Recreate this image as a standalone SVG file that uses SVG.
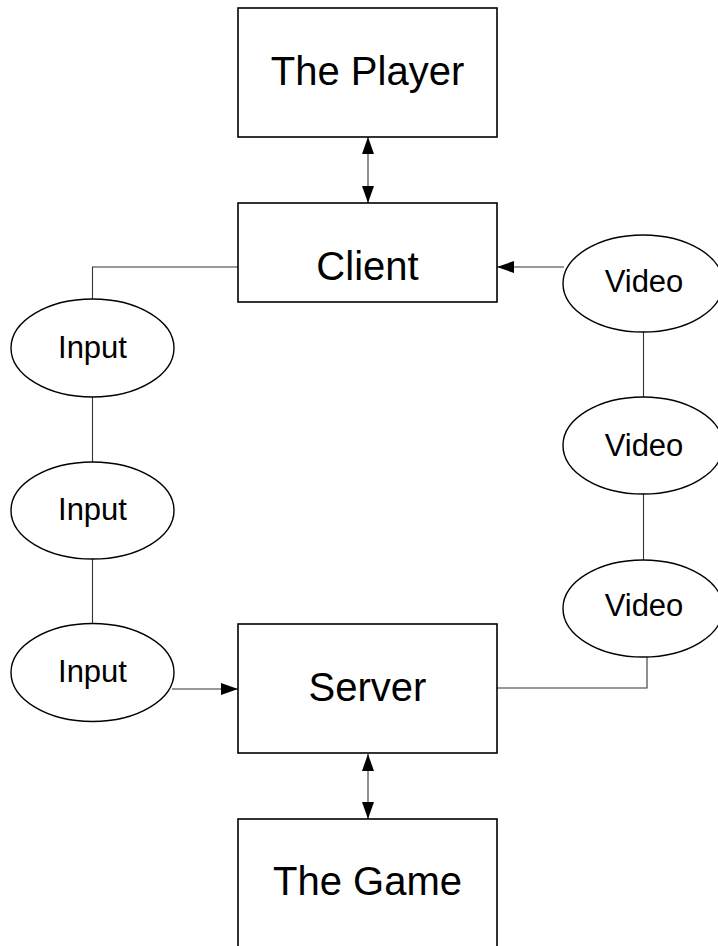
<svg xmlns="http://www.w3.org/2000/svg" width="718" height="946" viewBox="0 0 718 946">
  <defs>
    <marker id="arrow" viewBox="0 0 17 12" refX="17" refY="6" markerWidth="17" markerHeight="12" markerUnits="userSpaceOnUse" orient="auto-start-reverse">
      <path d="M0,0 L17,6 L0,12 Z" fill="#000"/>
    </marker>
    <style>
      .box { fill: #fff; stroke: #000; stroke-width: 1.6; }
      .oval { fill: #fff; stroke: #000; stroke-width: 1.4; }
      text { font-family: Arial, "Liberation Sans", Arimo, Helvetica, sans-serif; fill: #000; text-anchor: middle; }
      .big { font-size: 40px; }
      .small { font-size: 31px; }
      .link { fill: none; stroke: #333; stroke-width: 1.1; }
    </style>
  </defs>
  <rect width="718" height="946" fill="#fff"/>

  <!-- connectors -->
  <g id="connectors">
    <line class="link" x1="368" y1="137" x2="368" y2="203" marker-start="url(#arrow)" marker-end="url(#arrow)"/>
    <line class="link" x1="368" y1="754" x2="368" y2="819" marker-start="url(#arrow)" marker-end="url(#arrow)"/>
    <polyline class="link" points="238,267 92.5,267 92.5,299"/>
    <line class="link" x1="92.5" y1="397" x2="92.5" y2="462"/>
    <line class="link" x1="92.5" y1="559" x2="92.5" y2="623"/>
    <line class="link" x1="172" y1="689" x2="238" y2="689" marker-end="url(#arrow)"/>
    <line class="link" x1="564" y1="267" x2="497" y2="267" marker-end="url(#arrow)"/>
    <line class="link" x1="643.5" y1="332" x2="643.5" y2="397"/>
    <line class="link" x1="643.5" y1="494" x2="643.5" y2="560"/>
    <polyline class="link" points="647,657 647,688 497,688"/>
  </g>

  <g id="player">
    <rect class="box" x="238" y="8" width="259" height="129"/>
    <text class="big" x="367.5" y="85" font-family="Liberation Sans, Arial, sans-serif">The Player</text>
  </g>
  <g id="client">
    <rect class="box" x="238" y="203" width="259" height="99"/>
    <text class="big" x="367.5" y="280">Client</text>
  </g>
  <g id="server">
    <rect class="box" x="238" y="624" width="259" height="129"/>
    <text class="big" x="367.5" y="701">Server</text>
  </g>
  <g id="game">
    <rect class="box" x="238" y="819" width="259" height="129"/>
    <text class="big" x="367.5" y="895">The Game</text>
  </g>

  <g id="input1">
    <ellipse class="oval" cx="92.5" cy="348" rx="81.5" ry="49"/>
    <text class="small" x="92.5" y="358">Input</text>
  </g>
  <g id="input2">
    <ellipse class="oval" cx="92.5" cy="510.5" rx="81.5" ry="48.5"/>
    <text class="small" x="92.5" y="520">Input</text>
  </g>
  <g id="input3">
    <ellipse class="oval" cx="92.5" cy="672.5" rx="81.5" ry="49"/>
    <text class="small" x="92.5" y="682">Input</text>
  </g>

  <g id="video1">
    <ellipse class="oval" cx="643" cy="283.5" rx="80" ry="48.5"/>
    <text class="small" x="644" y="292">Video</text>
  </g>
  <g id="video2">
    <ellipse class="oval" cx="643" cy="445.5" rx="80" ry="48.5"/>
    <text class="small" x="644" y="456">Video</text>
  </g>
  <g id="video3">
    <ellipse class="oval" cx="643" cy="608.5" rx="80" ry="48.5"/>
    <text class="small" x="644" y="616">Video</text>
  </g>
</svg>
